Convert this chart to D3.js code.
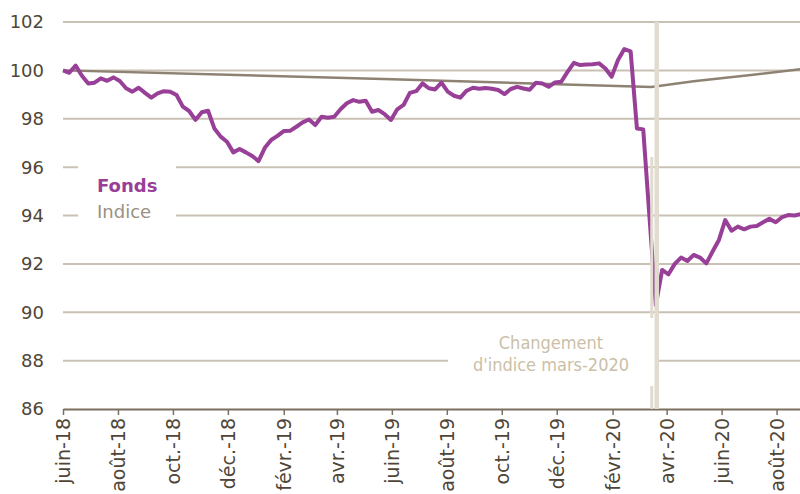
<!DOCTYPE html>
<html>
<head>
<meta charset="utf-8">
<script src="https://cdn.jsdelivr.net/npm/d3@7"></script>
<style>
  body { margin: 0; background: #fff; }
  svg { display: block; font-family: "DejaVu Sans", sans-serif; }
</style>
</head>
<body>
<script>
// weekly values of the fund, first week = 1 June 2018
var fundStart = "2018-06-01";
var fundValues = [
  100.0, 99.9, 100.2, 99.78, 99.46, 99.49, 99.67, 99.57, 99.71, 99.56,
  99.26, 99.12, 99.28, 99.07, 98.87, 99.05, 99.14, 99.12, 98.98, 98.5,
  98.32, 97.95, 98.27, 98.33, 97.6, 97.26, 97.05, 96.61, 96.75, 96.61,
  96.46, 96.25, 96.8, 97.12, 97.29, 97.49, 97.5, 97.67, 97.85, 97.97,
  97.74, 98.08, 98.04, 98.08, 98.39, 98.64, 98.77, 98.7, 98.74, 98.29,
  98.36, 98.19, 97.95, 98.39, 98.57, 99.07, 99.14, 99.46, 99.26, 99.21,
  99.49, 99.12, 98.95, 98.87, 99.16, 99.28, 99.24, 99.27, 99.24, 99.19,
  99.02, 99.23, 99.32, 99.25, 99.2, 99.49, 99.46, 99.32, 99.5, 99.53,
  99.94, 100.31, 100.22, 100.24, 100.25, 100.29, 100.08, 99.74, 100.43, 100.88,
  100.79, 97.6, 97.56, 93.9, 90.3, 91.75, 91.57, 92.0, 92.26, 92.12,
  92.37, 92.26, 92.02, 92.51, 92.99, 93.81, 93.37, 93.54, 93.43, 93.54,
  93.57, 93.72, 93.86, 93.72, 93.93, 94.02, 94.0, 94.06
];

// index, read at a few dates
var indexDates = ["2018-06-01", "2018-12-01", "2019-06-01", "2019-12-01", "2020-03-15", "2020-05-01", "2020-07-01", "2020-08-28"];
var indexValues = [100.0, 99.82, 99.63, 99.43, 99.31, 99.55, 99.8, 100.05];

var tickDates = ["2018-06-01", "2018-08-01", "2018-10-01", "2018-12-01", "2019-02-01", "2019-04-01", "2019-06-01",
  "2019-08-01", "2019-10-01", "2019-12-01", "2020-02-01", "2020-04-01", "2020-06-01", "2020-08-01"];
var tickLabels = ["juin-18", "août-18", "oct.-18", "déc.-18", "févr.-19", "avr.-19", "juin-19",
  "août-19", "oct.-19", "déc.-19", "févr.-20", "avr.-20", "juin-20", "août-20"];
var yTicks = [86, 88, 90, 92, 94, 96, 98, 100, 102];

var changeDate = "2020-03-21";

var parse = d3.timeParse("%Y-%m-%d");

var fund = fundValues.map(function (v, i) {
  return { date: d3.timeDay.offset(parse(fundStart), 7 * i), value: v };
});
var index = indexDates.map(function (d, i) {
  return { date: parse(d), value: indexValues[i] };
});

var width = 800, height = 494;

var svg = d3.select("body").append("svg")
  .attr("width", width)
  .attr("height", height);

var x = d3.scaleTime()
  .domain([parse("2018-06-01"), parse("2020-08-27")])
  .range([63, 800]);

var y = d3.scaleLinear()
  .domain([86, 102])
  .range([409, 22]);

// gridlines
svg.append("g")
  .selectAll("line")
  .data(yTicks.filter(function (d) { return d > 86; }))
  .enter()
  .append("line")
  .attr("x1", 63)
  .attr("x2", 800)
  .attr("y1", function (d) { return y(d); })
  .attr("y2", function (d) { return y(d); })
  .style("stroke", "#c9c1b4")
  .style("stroke-width", 2);

// y labels
svg.append("g")
  .selectAll("text")
  .data(yTicks)
  .enter()
  .append("text")
  .attr("x", 44)
  .attr("y", function (d) { return y(d); })
  .attr("dy", "0.36em")
  .attr("text-anchor", "end")
  .style("font-size", "18px")
  .style("fill", "#4f4637")
  .text(function (d) { return d; });

// x axis
var xAxis = d3.axisBottom(x)
  .tickValues(tickDates.map(parse))
  .tickFormat(function (d, i) { return tickLabels[i]; })
  .tickSize(6)
  .tickSizeOuter(0);

var gx = svg.append("g")
  .attr("transform", "translate(0,409)")
  .call(xAxis);

gx.select(".domain").style("stroke", "#7a6f60").style("stroke-width", 2);
gx.selectAll(".tick line").style("stroke", "#7a6f60").style("stroke-width", 1.5);
gx.selectAll("text")
  .attr("transform", "rotate(-90)")
  .attr("text-anchor", "end")
  .attr("x", -9)
  .attr("y", 0)
  .attr("dy", "0.36em")
  .style("font-family", "\"DejaVu Sans\", sans-serif")
  .style("font-size", "19px")
  .style("fill", "#4f4637");

var line = d3.line()
  .x(function (d) { return x(d.date); })
  .y(function (d) { return y(d.value); });

svg.append("path")
  .datum(index)
  .attr("d", line)
  .style("fill", "none")
  .style("stroke", "#8e8272")
  .style("stroke-width", 2.5);

svg.append("path")
  .datum(fund)
  .attr("d", line)
  .style("fill", "none")
  .style("stroke", "#983f97")
  .style("stroke-width", 4)
  .style("stroke-linejoin", "round");

// index change marker
var cx = x(parse(changeDate));

svg.append("line")
  .attr("x1", cx - 5).attr("x2", cx - 5)
  .attr("y1", 157).attr("y2", 409)
  .style("stroke", "#e2dbcf")
  .style("stroke-width", 3);

// white boxes behind the texts
svg.append("rect")
  .attr("x", 78).attr("y", 159)
  .attr("width", 98).attr("height", 64)
  .style("fill", "#fff");

svg.append("rect")
  .attr("x", 448).attr("y", 318)
  .attr("width", cx - 448).attr("height", 68)
  .style("fill", "#fff");

svg.append("line")
  .attr("x1", cx).attr("x2", cx)
  .attr("y1", 22).attr("y2", 409)
  .style("stroke", "#e2dbcf")
  .style("stroke-width", 4.5);

// legend
svg.append("text")
  .attr("x", 97).attr("y", 192)
  .style("font-size", "18px")
  .style("font-weight", "bold")
  .style("fill", "#983f97")
  .text("Fonds");

svg.append("text")
  .attr("x", 97).attr("y", 218)
  .style("font-size", "18px")
  .style("fill", "#9a9083")
  .text("Indice");

// annotation
var note = svg.append("text")
  .attr("text-anchor", "middle")
  .style("font-family", "\"DejaVu Sans Condensed\", \"DejaVu Sans\", sans-serif")
  .style("font-size", "18px")
  .style("fill", "#cbbfa7");

note.append("tspan").attr("x", 551).attr("y", 349).text("Changement");
note.append("tspan").attr("x", 551).attr("y", 371).text("d'indice mars-2020");
</script>
</body>
</html>
